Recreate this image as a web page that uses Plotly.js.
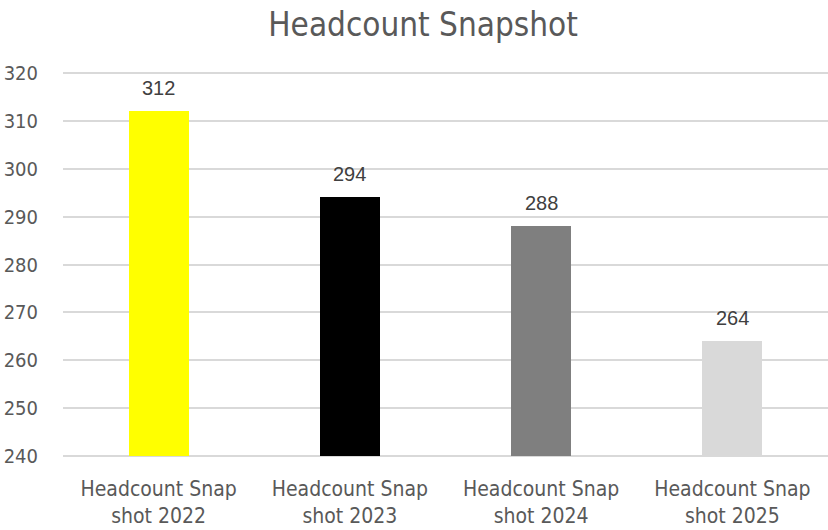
<!DOCTYPE html>
<html><head><meta charset="utf-8">
<script src="https://cdn.plot.ly/plotly-3.0.1.min.js"></script>
<style>html,body{margin:0;padding:0;background:#fff}#chart{width:828px;height:530px}</style>
</head><body><div id="chart"></div>
<script>
const categories = ["Headcount Snap<br>shot 2022", "Headcount Snap<br>shot 2023", "Headcount Snap<br>shot 2024", "Headcount Snap<br>shot 2025"];
const values = [312, 294, 288, 264];
const barColors = ["#FFFF00", "#000000", "#7F7F7F", "#D9D9D9"];
const yTicks = [240, 250, 260, 270, 280, 290, 300, 310, 320];

const narrow = "DejaVu Sans Condensed, Liberation Sans Narrow, sans-serif";
const trace = {
  type: "bar",
  x: categories,
  y: values.map(v => v - yTicks[0]),
  base: yTicks[0],
  width: 0.314,
  marker: {color: barColors, line: {width: 0}},
  hoverinfo: "skip"
};
const annotations = categories.map((c, i) => ({
  x: c, y: values[i], xref: "x", yref: "y",
  text: String(values[i]), showarrow: false,
  yanchor: "bottom", yshift: 10,
  font: {family: "Liberation Sans, Arial, sans-serif", size: 20, color: "#404040"}
}));
const layout = {
  width: 828, height: 530,
  margin: {l: 63, r: 0, t: 71, b: 72},
  paper_bgcolor: "#fff", plot_bgcolor: "#fff",
  title: {text: "Headcount Snapshot", x: 0.511, xanchor: "center", y: 0.953, yanchor: "middle",
          font: {family: narrow, size: 33, color: "#595959"}},
  showlegend: false,
  bargap: 0,
  xaxis: {type: "category", range: [-0.5, 3.5], showgrid: false, zeroline: false, showline: false,
          ticks: "", ticklabelstandoff: 16,
          tickfont: {family: narrow, size: 21, color: "#595959"}, automargin: false},
  yaxis: {range: [239.6, 320.4], tickvals: yTicks, ticktext: yTicks.map(String),
          showgrid: true, gridcolor: "#D9D9D9", gridwidth: 2, zeroline: false, showline: false,
          ticks: "", ticklabelstandoff: 24,
          tickfont: {family: narrow, size: 20, color: "#595959"}, automargin: false},
  annotations: annotations
};
Plotly.newPlot("chart", [trace], layout, {staticPlot: true, displayModeBar: false});
</script></body></html>
